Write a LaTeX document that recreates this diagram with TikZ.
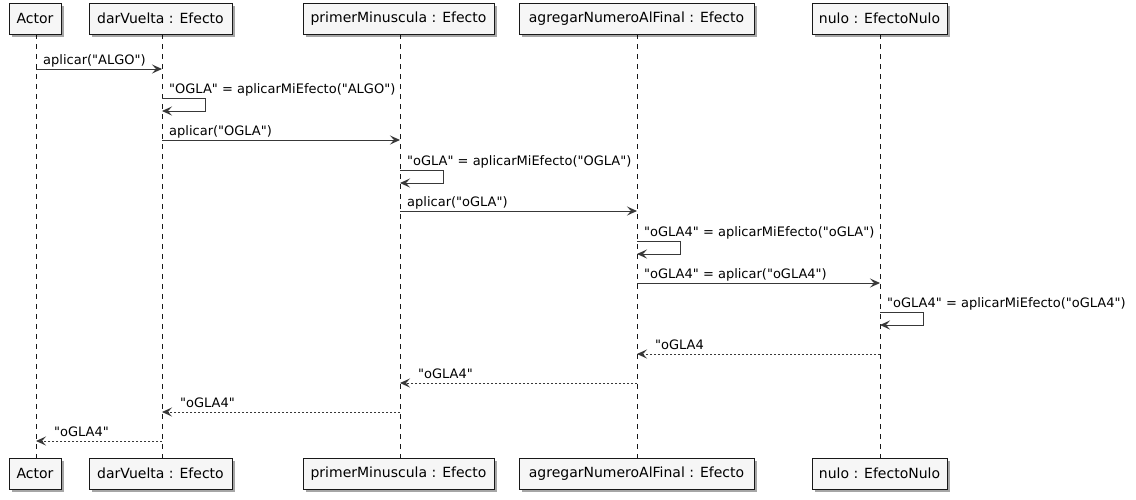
\documentclass[tikz,border=0pt]{standalone}
\usepackage{fontspec}
\newfontfamily\dvs{DejaVu Sans}
\usetikzlibrary{arrows.meta,shadows}
\definecolor{ln}{HTML}{181818}
\definecolor{ar}{HTML}{383838}
\definecolor{bx}{HTML}{F6F6F6}
\tikzset{
 part/.style={draw=ln, line width=1pt, fill=bx, drop shadow={shadow xshift=3pt,shadow yshift=-3pt,opacity=0.35,fill=black}, inner sep=0pt, minimum height=31pt, font=\dvs\fontsize{14}{16}\selectfont},
 life/.style={draw=ln, line width=0.8pt, dash pattern=on 5pt off 5pt},
 msg/.style={draw=ar, line width=1pt, -{Stealth[length=10pt,width=9pt,inset=4pt]}},
 ret/.style={msg, dash pattern=on 2pt off 2pt},
 lbl/.style={font=\dvs\fontsize{13}{15}\selectfont, anchor=base west, inner sep=0pt, text=black},
}
\begin{document}
\begin{tikzpicture}[x=1pt,y=-1pt]
\fill[white] (0,0) rectangle (1136,499);
\useasboundingbox (0,0) rectangle (1136,499);
% lifelines
\draw[life] (36,34) coordinate (aT) -- (36,458) coordinate (aB);
\draw[life] (162,34) coordinate (bT) -- (162,458) coordinate (bB);
\draw[life] (400,34) coordinate (cT) -- (400,458) coordinate (cB);
\draw[life] (637,34) coordinate (dT) -- (637,458) coordinate (dB);
\draw[life] (880,34) coordinate (eT) -- (880,458) coordinate (eB);
% participants
\node[part, minimum width=52pt] (actT) at (35,18.5) {Actor};
\node[part, minimum width=143pt] (darT) at (160.5,18.5) {darVuelta : Efecto};
\node[part, minimum width=191pt] (priT) at (398.5,18.5) {primerMinuscula : Efecto};
\node[part, minimum width=235pt] (agrT) at (636.5,18.5) {agregarNumeroAlFinal : Efecto};
\node[part, minimum width=135pt] (nulT) at (879.5,18.5) {nulo : EfectoNulo};
\node[part, minimum width=52pt] (actB) at (35,473.5) {Actor};
\node[part, minimum width=143pt] (darB) at (160.5,473.5) {darVuelta : Efecto};
\node[part, minimum width=191pt] (priB) at (398.5,473.5) {primerMinuscula : Efecto};
\node[part, minimum width=235pt] (agrB) at (636.5,473.5) {agregarNumeroAlFinal : Efecto};
\node[part, minimum width=135pt] (nulB) at (879.5,473.5) {nulo : EfectoNulo};
% message coordinates
\coordinate (m1a) at (36,69);  \coordinate (m1b) at (162,69);
\coordinate (m2a) at (162,98); \coordinate (m2b) at (162,111);
\coordinate (m3a) at (162,140); \coordinate (m3b) at (400,140);
\coordinate (m4a) at (400,170); \coordinate (m4b) at (400,183);
\coordinate (m5a) at (400,211); \coordinate (m5b) at (637,211);
\coordinate (m6a) at (637,241); \coordinate (m6b) at (637,254);
\coordinate (m7a) at (637,283); \coordinate (m7b) at (880,283);
\coordinate (m8a) at (880,312); \coordinate (m8b) at (880,325);
\coordinate (m9a) at (880,354); \coordinate (m9b) at (637,354);
\coordinate (m10a) at (637,383); \coordinate (m10b) at (400,383);
\coordinate (m11a) at (400,412); \coordinate (m11b) at (162,412);
\coordinate (m12a) at (162,441); \coordinate (m12b) at (36,441);
% messages
\draw[msg] (m1a) -- (m1b);
\node[lbl] (t1) at (43,64) {aplicar("ALGO")};
\draw[msg] (m2a) -- ++(43,0) |- (m2b);
\node[lbl] (t2) at (169,93) {"OGLA" = aplicarMiEfecto("ALGO")};
\draw[msg] (m3a) -- (m3b);
\node[lbl] (t3) at (169,135) {aplicar("OGLA")};
\draw[msg] (m4a) -- ++(43,0) |- (m4b);
\node[lbl] (t4) at (407,165) {"oGLA" = aplicarMiEfecto("OGLA")};
\draw[msg] (m5a) -- (m5b);
\node[lbl] (t5) at (407,206) {aplicar("oGLA")};
\draw[msg] (m6a) -- ++(43,0) |- (m6b);
\node[lbl] (t6) at (644,236) {"oGLA4" = aplicarMiEfecto("oGLA")};
\draw[msg] (m7a) -- (m7b);
\node[lbl] (t7) at (644,278) {"oGLA4" = aplicar("oGLA4")};
\draw[msg] (m8a) -- ++(43,0) |- (m8b);
\node[lbl] (t8) at (887,307) {"oGLA4" = aplicarMiEfecto("oGLA4")};
\draw[ret] (m9a) -- (m9b);
\node[lbl] (t9) at (655,349) {"oGLA4};
\draw[ret] (m10a) -- (m10b);
\node[lbl] (t10) at (418,378) {"oGLA4"};
\draw[ret] (m11a) -- (m11b);
\node[lbl] (t11) at (180,407) {"oGLA4"};
\draw[ret] (m12a) -- (m12b);
\node[lbl] (t12) at (54,436) {"oGLA4"};
\end{tikzpicture}
\end{document}
